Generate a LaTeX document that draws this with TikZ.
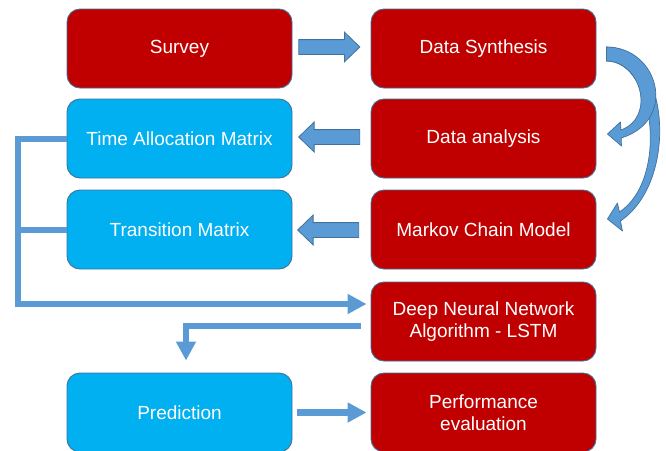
\documentclass[tikz,border=0pt]{standalone}
\usepackage{fontspec}
\setmainfont{Liberation Sans}
\usetikzlibrary{arrows.meta,shapes.arrows,calc}
\definecolor{boxred}{HTML}{C00000}
\definecolor{boxblue}{HTML}{00B0F0}
\definecolor{edgeblue}{HTML}{41719C}
\definecolor{arrowblue}{HTML}{5B9BD5}
\begin{document}
\begin{tikzpicture}[x=1pt,y=-1pt,
  box/.style={draw=edgeblue, line width=0.9pt, rounded corners=13pt, minimum width=225pt, minimum height=79pt, inner sep=0pt, text=white, align=center, font=\fontsize{19}{22.5}\selectfont},
  redbox/.style={box, fill=boxred},
  bluebox/.style={box, fill=boxblue},
  blockarrow/.style={single arrow, draw=edgeblue, fill=arrowblue, line width=0.8pt, minimum height=61pt, inner xsep=0pt, inner ysep=7pt, single arrow head extend=7.5pt, single arrow tip angle=88},
  conn/.style={draw=arrowblue, line width=6pt, line join=miter},
  conntip/.style={-{Triangle[length=19pt,width=19pt]}},
  curvearrow/.style={draw=edgeblue, fill=arrowblue, line width=0.7pt, line join=round}
]
\useasboundingbox (0,0) rectangle (666,450);

\node[redbox] (sur) at (179.5,48.5) {Survey};
\node[redbox] (ds) at (483.5,48.5) {Data Synthesis};
\node[bluebox] (tam) at (179.5,138.5) {Time Allocation Matrix};
\node[redbox] (da) at (483.5,138.5) {Data analysis};
\node[bluebox] (tm) at (179.5,229.5) {Transition Matrix};
\node[redbox] (mcm) at (483.5,229.5) {Markov Chain Model};
\node[redbox] (dnn) at (483.5,321.5) {Deep Neural Network\\Algorithm - LSTM};
\node[bluebox] (pred) at (179.5,412.5) {Prediction};
\node[redbox] (perf) at (483.5,412.5) {Performance\\evaluation};

\node[blockarrow] (a1) at ($(sur.east)!0.5!(ds.west)+(-6,-1.5)$) {};
\node[blockarrow, shape border rotate=180] (a2) at ($(da.west)!0.5!(tam.east)+(1.5,-1.5)$) {};
\node[blockarrow, shape border rotate=180] (a3) at ($(mcm.west)!0.5!(tm.east)+(0.5,0.5)$) {};

\coordinate (lft) at ($(tam.west)+(-49,0)$);
\draw[conn,conntip,shorten >=4pt] (tam.west) -- (lft) |- ($(dnn.west)+(0,-17.5)$);
\draw[conn] (tm.west) -- (tm.west -| lft);
\draw[conn,conntip,shorten >=12pt] ($(dnn.west)+(-10,4.5)$) -| ($(pred.north)+(6.5,0)$);
\draw[conn,line width=6.5pt,conntip,shorten <=5pt,shorten >=4pt] (pred.east) -- (perf.west);

\begin{scope}[shift={(ds.east)}]
\path[curvearrow] (10,-1.5) .. controls (72,-1.5) and (84,131.5) .. (24,172.5) -- (26,182.5) -- (11,170.5) -- (21,154.5) -- (23,163.5) .. controls (72,131.5) and (59,12.5) .. (10,12.5) -- cycle;
\path[curvearrow] (10,-1.5) .. controls (62,-1.5) and (82,71.5) .. (24.8,89.5) -- (25,97.5) -- (11,85.5) -- (24,73.5) -- (24.5,81.5) .. controls (60,68.5) and (44,12.5) .. (10,12.5) -- cycle;
\end{scope}
\end{tikzpicture}
\end{document}
